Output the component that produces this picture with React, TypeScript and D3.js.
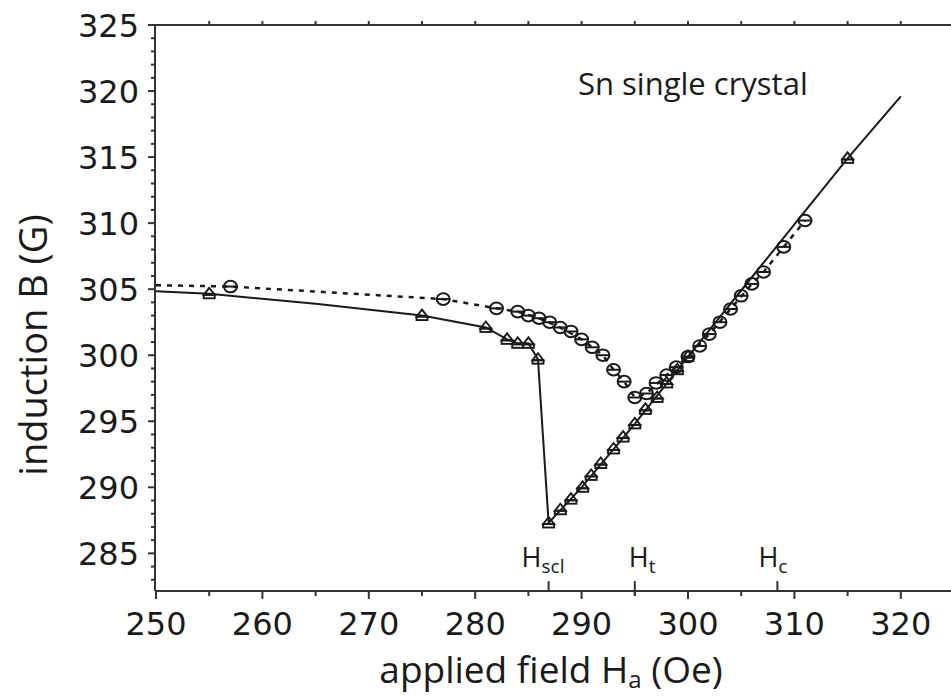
import React from "react";
import * as d3 from "d3";

// ---- data ----
const triH = [255, 275, 281, 283, 284, 285, 285.9, 286.9, 288, 289, 290.1, 290.9, 291.8, 293, 293.9, 295, 296, 297.1, 298, 299, 300, 315];
const triB = [304.65, 303.0, 302.1, 301.2, 300.9, 300.9, 299.7, 287.3, 288.3, 289.1, 290.0, 290.9, 291.8, 292.9, 293.8, 294.8, 295.9, 296.8, 297.9, 298.9, 299.9, 314.9];

// solid guide line (through triangles, from the axis to the top end)
const solidH = [250, 255, 265, 275, 281, 283, 284, 285, 285.9, 286.9, 290, 295, 300, 305, 310, 315, 320];
const solidB = [304.85, 304.65, 303.9, 303.0, 302.1, 301.2, 300.9, 300.9, 299.7, 287.3, 290.0, 294.8, 299.9, 304.9, 309.9, 314.9, 319.6];

const cirH = [257, 277, 282, 284, 285, 286, 287, 288, 289, 290, 291, 292, 293, 294, 295, 296.1, 297, 298, 298.9, 300, 301.1, 302, 303, 304, 305, 306, 307.1, 309, 311];
const cirB = [305.2, 304.25, 303.55, 303.3, 303.0, 302.8, 302.5, 302.1, 301.8, 301.2, 300.6, 300.0, 298.9, 298.0, 296.8, 297.1, 297.9, 298.5, 299.1, 299.9, 300.7, 301.6, 302.5, 303.5, 304.5, 305.4, 306.3, 308.2, 310.2];

// dashed guide line (through circles)
const dashH = [250, 257, 277, 282, 284, 286, 288, 290, 292, 293, 294, 295, 296.1, 298, 300, 302, 304, 306, 307.1, 309, 311];
const dashB = [305.3, 305.2, 304.25, 303.55, 303.3, 302.8, 302.1, 301.2, 300.0, 298.9, 298.0, 296.8, 297.1, 298.5, 299.9, 301.6, 303.5, 305.4, 306.3, 308.2, 310.2];

const xMajorTicks = [250, 260, 270, 280, 290, 300, 310, 320];
const xMinorTicks = [255, 265, 275, 285, 295, 305, 315];
const xTopTicks = [255, 260, 265, 270, 275, 280, 285, 290, 295, 300, 305, 310, 315, 320];
const yMajorTicks = [285, 290, 295, 300, 305, 310, 315, 320, 325];
const yMinorTicks = d3.range(283, 325).filter((v) => v % 5 !== 0);

const fieldMarks = ["scl", "t", "c"];
const fieldMarkH = [286.9, 295, 308.4];

const xTitle = "applied field H";
const xTitleSub = "a";
const xTitleEnd = " (Oe)";
const yTitle = "induction B (G)";
const annotation = "Sn single crystal";

// ---- layout ----
const W = 951;
const H = 696;
const X0 = 156;
const X1 = 954;
const Y0 = 591;
const Y1 = 25;
const markLabelDx = [-27, -6, -19];

const INK = "#1a1a1a";
const TICK_FONT = "'DejaVu Sans', sans-serif";
const TEXT_FONT = "'Open Sans', sans-serif";

export default function App() {
  const x = d3.scaleLinear().domain([250, 325]).range([X0, X1]);
  const y = d3.scaleLinear().domain([282.15, 325]).range([Y0, Y1]);

  const line = d3
    .line<[number, number]>()
    .x((d) => x(d[0]))
    .y((d) => y(d[1]));

  const solidPts = solidH.map((h, i) => [h, solidB[i]] as [number, number]);
  const dashPts = dashH.map((h, i) => [h, dashB[i]] as [number, number]);

  return (
    <svg
      width={W}
      height={H}
      viewBox={`0 0 ${W} ${H}`}
      style={{ position: "absolute", left: 0, top: 0, background: "#fff" }}
    >
      <rect x={0} y={0} width={W} height={H} fill="#fff" />

      {/* axes */}
      <g stroke="#333" strokeWidth={2} fill="none">
        <line x1={X0 - 1} x2={W} y1={Y1} y2={Y1} />
        <line x1={X0 - 1} x2={W} y1={Y0} y2={Y0} />
        <line x1={X0 - 1} x2={X0 - 1} y1={Y1} y2={Y0} />
      </g>

      {/* ticks */}
      <g stroke="#333" strokeWidth={2}>
        {xMajorTicks.map((t) => (
          <line key={"xm" + t} x1={x(t)} x2={x(t)} y1={Y0} y2={Y0 + 8} />
        ))}
        {xMinorTicks.map((t) => (
          <line key={"xn" + t} x1={x(t)} x2={x(t)} y1={Y0} y2={Y0 + 5} />
        ))}
        {xTopTicks.map((t) => (
          <line key={"xt" + t} x1={x(t)} x2={x(t)} y1={Y1} y2={Y1 - 4} />
        ))}
        {yMajorTicks.map((t) => (
          <line key={"ym" + t} x1={X0 - 1} x2={X0 - 8} y1={y(t)} y2={y(t)} />
        ))}
        {yMinorTicks.map((t) => (
          <line key={"yn" + t} x1={X0 - 1} x2={X0 - 5} y1={y(t)} y2={y(t)} />
        ))}
      </g>

      {/* tick labels */}
      <g fill={INK} fontFamily={TICK_FONT} fontSize={32}>
        {xMajorTicks.map((t) => (
          <text key={"xl" + t} x={x(t)} y={635} textAnchor="middle">
            {t}
          </text>
        ))}
        {yMajorTicks.map((t) => (
          <text key={"yl" + t} x={139} y={y(t) + 11.5} textAnchor="end">
            {t}
          </text>
        ))}
      </g>

      {/* field marks on the bottom axis */}
      <g>
        {fieldMarks.map((m, i) => (
          <g key={m}>
            <line
              x1={x(fieldMarkH[i])}
              x2={x(fieldMarkH[i])}
              y1={Y0 - 10}
              y2={i === 1 ? Y0 + 5 : Y0}
              stroke="#333"
              strokeWidth={2}
            />
            <text
              x={x(fieldMarkH[i]) + markLabelDx[i]}
              y={567}
              fontFamily={TEXT_FONT}
              fontSize={27}
              fill={INK}
            >
              H
              <tspan fontSize={19} dy={6}>
                {m}
              </tspan>
            </text>
          </g>
        ))}
      </g>

      {/* guide lines */}
      <path d={line(dashPts) || ""} fill="none" stroke={INK} strokeWidth={2.5} strokeDasharray="5 6" />
      <path d={line(solidPts) || ""} fill="none" stroke={INK} strokeWidth={2} />

      {/* circle markers */}
      <g stroke={INK} strokeWidth={2} fill="none">
        {cirH.map((h, i) => (
          <g key={"c" + i} transform={`translate(${x(h)},${y(cirB[i])})`}>
            <ellipse rx={6.5} ry={5.8} />
            <line x1={-6.2} x2={6.2} y1={0} y2={0} />
          </g>
        ))}
      </g>

      {/* triangle markers */}
      <g stroke={INK} strokeWidth={1.9} fill="none">
        {triH.map((h, i) => (
          <g key={"t" + i} transform={`translate(${x(h)},${y(triB[i])})`}>
            <path d="M-5.5,1 L0,-6 L5.5,1 Z" />
            <rect x={-5.5} y={1} width={11} height={3.5} />
          </g>
        ))}
      </g>

      {/* annotation */}
      <text x={578} y={95} fontFamily={TEXT_FONT} fontSize={31} fill={INK}>
        {annotation}
      </text>

      {/* axis titles */}
      <text
        x={551}
        y={683}
        textAnchor="middle"
        fontFamily={TEXT_FONT}
        fontSize={37}
        fill={INK}
      >
        {xTitle}
        <tspan fontSize={24} dy={5}>
          {xTitleSub}
        </tspan>
        <tspan dy={-5}>{xTitleEnd}</tspan>
      </text>
      <text
        transform={`translate(47,345) rotate(-90)`}
        textAnchor="middle"
        fontFamily={TEXT_FONT}
        fontSize={38}
        fill={INK}
      >
        {yTitle}
      </text>
    </svg>
  );
}
